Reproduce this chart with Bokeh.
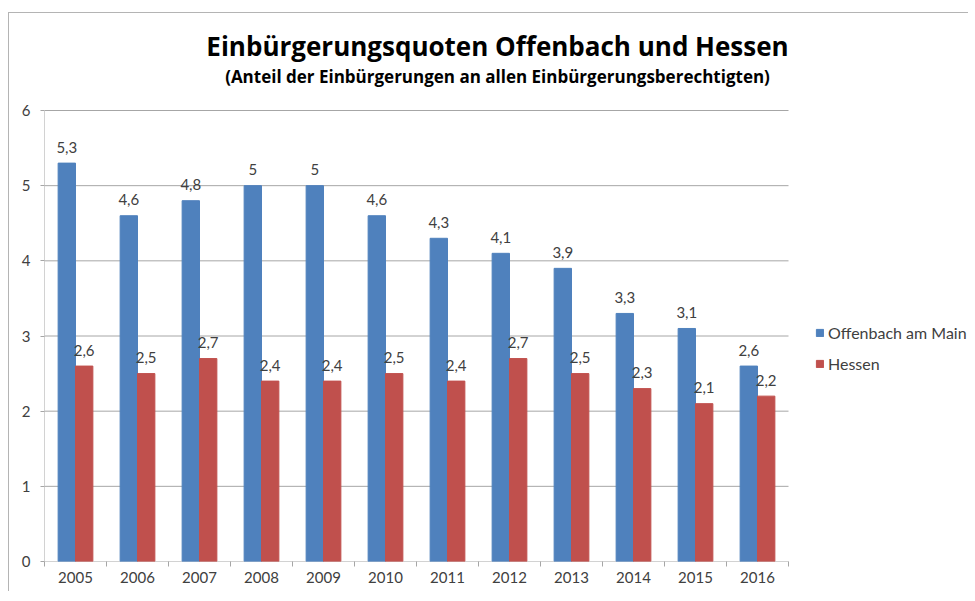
import numpy as np
from bokeh.plotting import figure
from bokeh.models import (Range1d, FixedTicker, Legend, LegendItem,
                          ColumnDataSource, LabelSet, Label)
from bokeh.core.properties import value
from bokeh.embed import file_html
from bokeh.resources import INLINE

years = ["2005", "2006", "2007", "2008", "2009", "2010",
         "2011", "2012", "2013", "2014", "2015", "2016"]
offenbach = [5.3, 4.6, 4.8, 5.0, 5.0, 4.6, 4.3, 4.1, 3.9, 3.3, 3.1, 2.6]
hessen = [2.6, 2.5, 2.7, 2.4, 2.4, 2.5, 2.4, 2.7, 2.5, 2.3, 2.1, 2.2]
y_ticks = [0, 1, 2, 3, 4, 5, 6]
title = "Einbürgerungsquoten Offenbach und Hessen"
subtitle = "(Anteil der Einbürgerungen an allen Einbürgerungsberechtigten)"

BLUE = "#4F81BD"
RED = "#C0504D"
GRID = "#A6A6A6"
TXT = "#404040"
FONT = "Lato"
TFONT = "Open Sans"


def de(v):
    return ("%g" % v).replace(".", ",")


n = len(years)
idx = np.arange(n)
bw = 0.28
src_o = ColumnDataSource(dict(x=idx - bw / 2, top=offenbach, lab=[de(v) for v in offenbach]))
src_h = ColumnDataSource(dict(x=idx + bw / 2, top=hessen, lab=[de(v) for v in hessen]))

# layout (px): category width 62, plot area 0..6 spans 451px
CAT = 62.0
UNIT = 451.0 / 6
W, H = 960, 579
FL, FB = 35, 31          # frame left / bottom borders
frame_w = W - FL
frame_h = H - FB
x_end = -0.5 + frame_w / CAT
y_end = frame_h / UNIT

p = figure(width=W, height=H, output_backend="svg", toolbar_location=None,
           x_range=Range1d(-0.5, x_end), y_range=Range1d(0, y_end),
           min_border_left=FL, min_border_right=0, min_border_bottom=FB,
           min_border_top=0)
p.styles = {"border-top": "1px solid #b4b4b4", "border-left": "1px solid #b4b4b4",
            "margin-top": "12px", "margin-left": "8px"}
p.outline_line_color = None
p.background_fill_color = "white"
p.border_fill_color = "white"

# gridlines and axis lines over the category / value extent
p.segment(x0=-0.5, x1=n - 0.5, y0=y_ticks, y1=y_ticks, line_color=GRID, line_width=1)
p.segment(x0=[-0.5], x1=[-0.5], y0=[y_ticks[0]], y1=[y_ticks[-1]], line_color=GRID, line_width=1)

r1 = p.vbar(x="x", top="top", width=bw, source=src_o, fill_color=BLUE, line_color=BLUE)
r2 = p.vbar(x="x", top="top", width=bw, source=src_h, fill_color=RED, line_color=RED)

for src in (src_o, src_h):
    p.add_layout(LabelSet(x="x", y="top", text="lab", source=src, y_offset=16,
                          text_align="center", text_baseline="middle",
                          text_font=value(FONT), text_font_size=value("15px"),
                          text_color=TXT))

p.xgrid.visible = False
p.ygrid.visible = False

xa = p.xaxis[0]
xa.ticker = FixedTicker(ticks=list(idx), minor_ticks=list(np.arange(n + 1) - 0.5))
xa.major_label_overrides = {int(i): y for i, y in zip(idx, years)}
xa.major_tick_out = 0
xa.major_tick_in = 0
xa.minor_tick_out = 5
xa.minor_tick_in = 0
xa.minor_tick_line_color = GRID
xa.axis_line_color = None
xa.major_label_text_font = FONT
xa.major_label_text_font_size = "15px"
xa.major_label_text_color = TXT
xa.major_label_standoff = 5

ya = p.yaxis[0]
ya.ticker = FixedTicker(ticks=y_ticks)
ya.major_tick_out = 4
ya.major_tick_in = 0
ya.minor_tick_out = 0
ya.major_tick_line_color = GRID
ya.axis_line_color = None
ya.major_label_text_font = FONT
ya.major_label_text_font_size = "15px"
ya.major_label_text_color = TXT
ya.major_label_standoff = 10

# titles (centred over the chart, above the plot area)
tx = -0.5 + (497 - 44) / CAT
p.add_layout(Label(x=tx, y=(561 - 45) / UNIT, text=title, text_align="center",
                   text_baseline="middle", text_font=TFONT, text_font_size="26px",
                   text_font_style="bold", text_color="black"))
p.add_layout(Label(x=tx, y=(561 - 76) / UNIT, text=subtitle, text_align="center",
                   text_baseline="middle", text_font=TFONT, text_font_size="17px",
                   text_font_style="bold", text_color="black"))

legend = Legend(items=[LegendItem(label="Offenbach am Main", renderers=[r1]),
                       LegendItem(label="Hessen", renderers=[r2])],
                glyph_width=9, glyph_height=9, label_standoff=4,
                label_text_font=FONT, label_text_font_size="16px",
                label_text_color=TXT, label_height=14, spacing=12,
                padding=0, margin=0, border_line_color=None,
                background_fill_alpha=0)
legend.location = (771, 188)
p.add_layout(legend, "center")

open("out.html", "w").write(file_html(p, INLINE))
